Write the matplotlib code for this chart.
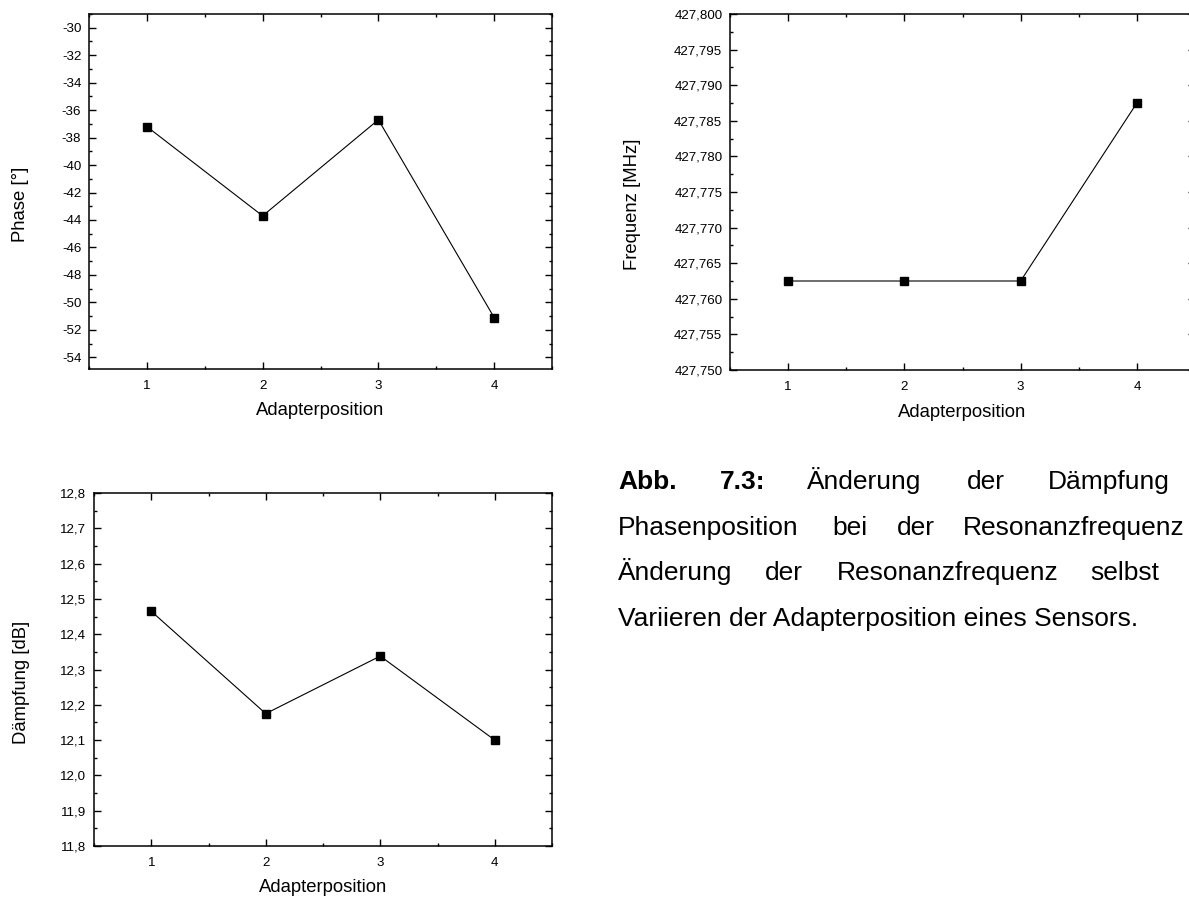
import matplotlib
matplotlib.use("Agg")
import matplotlib.pyplot as plt
from matplotlib.ticker import MultipleLocator, FuncFormatter

plt.rcParams["font.family"] = ["Liberation Sans", "DejaVu Sans"]
plt.rcParams["axes.unicode_minus"] = False

# Measurement data
positions = [1, 2, 3, 4]
phase_deg = [-37.2, -43.7, -36.7, -51.1]
freq_mhz = [427.7625, 427.7625, 427.7625, 427.7875]
daempfung_db = [12.465, 12.175, 12.338, 12.10]

x_label = "Adapterposition"
phase_label = "Phase [°]"
freq_label = "Frequenz [MHz]"
daempfung_label = "Dämpfung [dB]"

W, H = 1189, 897
fig = plt.figure(figsize=(W / 100, H / 100), dpi=100)


def px_axes(left, top, right, bottom):
    return fig.add_axes([left / W, 1 - bottom / H, (right - left) / W, (bottom - top) / H])


def comma_fmt(decimals):
    def f(v, pos):
        s = f"{v:.{decimals}f}"
        return s.replace(".", ",")
    return FuncFormatter(f)


def style(ax, ylim, ymajor, yminor, decimals, ylabel, ylab_x, ylab_y):
    ax.set_xlim(0.5, 4.5)
    ax.set_ylim(*ylim)
    ax.xaxis.set_major_locator(MultipleLocator(1))
    ax.xaxis.set_minor_locator(MultipleLocator(0.5))
    ax.yaxis.set_major_locator(MultipleLocator(ymajor))
    ax.yaxis.set_minor_locator(MultipleLocator(yminor))
    ax.yaxis.set_major_formatter(comma_fmt(decimals))
    ax.tick_params(which="both", direction="in", top=True, right=True,
                   width=1.0, colors="black")
    ax.tick_params(which="major", length=4.8)
    ax.tick_params(which="minor", length=2.4)
    ax.tick_params(axis="x", which="major", pad=8, labelsize=9.6)
    ax.tick_params(axis="y", which="major", pad=5.5, labelsize=9.6)
    for sp in ax.spines.values():
        sp.set_linewidth(1.1)
    ax.set_xlabel(x_label, fontsize=13.3)
    ax.set_ylabel(ylabel, fontsize=13.3)
    ax.xaxis.set_label_coords(0.5, -0.118)
    ax.xaxis.label.set_va("center")
    ax.yaxis.set_label_coords(ylab_x, ylab_y)
    ax.yaxis.label.set_va("center")


def draw(ax, y):
    ax.plot(positions, y, color="black", lw=0.8, marker="s", markersize=5.5,
            markerfacecolor="black", markeredgecolor="black")


ax1 = px_axes(89, 14, 552, 369)
draw(ax1, phase_deg)
style(ax1, (-54.85, -29.0), 2, 1, 0, phase_label, -0.147, 0.465)

ax2 = px_axes(730, 14, 1195, 370)
draw(ax2, freq_mhz)
style(ax2, (427.750, 427.800), 0.005, 0.0025, 3, freq_label, -0.209, 0.466)

ax3 = px_axes(94, 493, 552, 846)
draw(ax3, daempfung_db)
style(ax3, (11.8, 12.8), 0.1, 0.05, 1, daempfung_label, -0.159, 0.464)

# Justified caption, one word per entry
caption_lines = [
    [("Abb.", 618, "bold"), ("7.3:", 720, "bold"), ("Änderung", 807, "normal"),
     ("der", 967, "normal"), ("Dämpfung", 1048, "normal")],
    [("Phasenposition", 618, "normal"), ("bei", 832, "normal"), ("der", 897, "normal"),
     ("Resonanzfrequenz", 963, "normal")],
    [("Änderung", 618, "normal"), ("der", 765, "normal"), ("Resonanzfrequenz", 837, "normal"),
     ("selbst", 1090, "normal")],
    [("Variieren der Adapterposition eines Sensors.", 618, "normal")],
]
baselines = [489, 535, 580, 626]
for words, yb in zip(caption_lines, baselines):
    for text, x, weight in words:
        fig.text(x / W, 1 - yb / H, text, fontsize=19, fontweight=weight,
                 ha="left", va="baseline")

fig.savefig("out.png", dpi=100)
